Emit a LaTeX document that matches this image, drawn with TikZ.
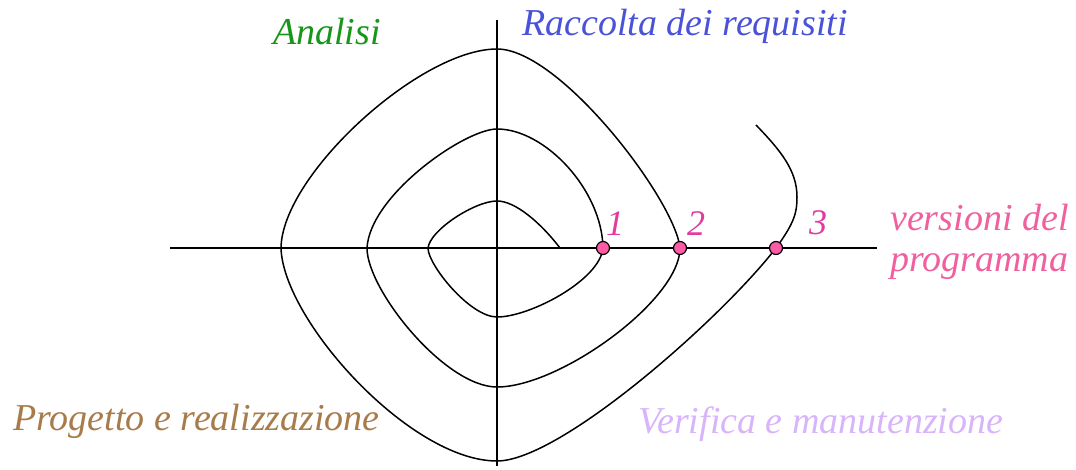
\documentclass[tikz,border=0pt]{standalone}
\usepackage{fontspec}
\setmainfont{Liberation Serif}
\definecolor{cgreen}{HTML}{17961A}
\definecolor{cblue}{HTML}{4A52D8}
\definecolor{cpink}{HTML}{F0609E}
\definecolor{cnum}{HTML}{E23AA0}
\definecolor{cdot}{HTML}{FF5AA5}
\definecolor{cbrown}{HTML}{A87B4A}
\definecolor{clav}{HTML}{D8B4FA}
\begin{document}
\begin{tikzpicture}[x=1pt,y=-1pt,
  line/.style={line width=1.5pt,black},
  lbl/.style={font=\fontsize{38}{40}\selectfont\itshape,anchor=base west,inner sep=0pt},
  num/.style={font=\fontsize{36}{40}\selectfont\itshape,anchor=base,inner sep=0pt,text=cnum},
  vdot/.style={circle,draw=black,line width=1.2pt,fill=cdot,minimum size=13pt,inner sep=0pt}]
\useasboundingbox (0,0) rectangle (1076,470);
% axes
\coordinate (hl) at (170,248);
\coordinate (hr) at (877,248);
\coordinate (vt) at (497,20);
\coordinate (vb) at (497,466);
\draw[line] (hl) -- (hr);
\draw[line] (vt) -- (vb);
% spiral key points
\coordinate (s0) at (560,248);
\coordinate (it) at (497,201);
\coordinate (il) at (428,248);
\coordinate (ib) at (497,317);
\coordinate (c1) at (603,248);
\coordinate (mt) at (497,129);
\coordinate (ml) at (367,248);
\coordinate (mb) at (497,387);
\coordinate (c2) at (680,248);
\coordinate (ot) at (497,49);
\coordinate (ol) at (281,248);
\coordinate (ob) at (497,461);
\coordinate (c3) at (776,248);
\coordinate (er) at (797,197);
\coordinate (ee) at (756,125);
\draw[line,line join=round]
  (s0) .. controls (540,222) and (515,201) .. (it)
       .. controls (475,201) and (430,230) .. (il)
       .. controls (428,265) and (470,317) .. (ib)
       .. controls (530,317) and (600,280) .. (c1)
       .. controls (602,190) and (545,129) .. (mt)
       .. controls (465,129) and (370,195) .. (ml)
       .. controls (367,290) and (445,387) .. (mb)
       .. controls (560,387) and (680,300) .. (c2)
       .. controls (675,200) and (560,49) .. (ot)
       .. controls (420,49) and (282,175) .. (ol)
       .. controls (283,320) and (410,461) .. (ob)
       .. controls (560,461) and (720,320) .. (c3)
       .. controls (795,222) and (797,212) .. (er)
       .. controls (797,170) and (780,150) .. (ee);
\node[vdot] (p1) at (c1) {};
\node[vdot] (p2) at (c2) {};
\node[vdot] (p3) at (c3) {};
% labels
\node[num] (n1) at (615,236) {1};
\node[num] (n2) at (696,236) {2};
\node[num] (n3) at (818,235) {3};
\node[lbl,text=cgreen] (an) at (273,45) {Analisi};
\node[lbl,text=cblue] (rq) at (522,36) {Raccolta dei requisiti};
\node[lbl,text=cpink] (v1) at (890,231) {versioni del};
\node[lbl,text=cpink] (v2) at (890,272) {programma};
\node[lbl,text=cbrown] (pr) at (13,430) {Progetto e realizzazione};
\node[lbl,text=clav] (vm) at (638,433) {Verifica e manutenzione};
\end{tikzpicture}
\end{document}
